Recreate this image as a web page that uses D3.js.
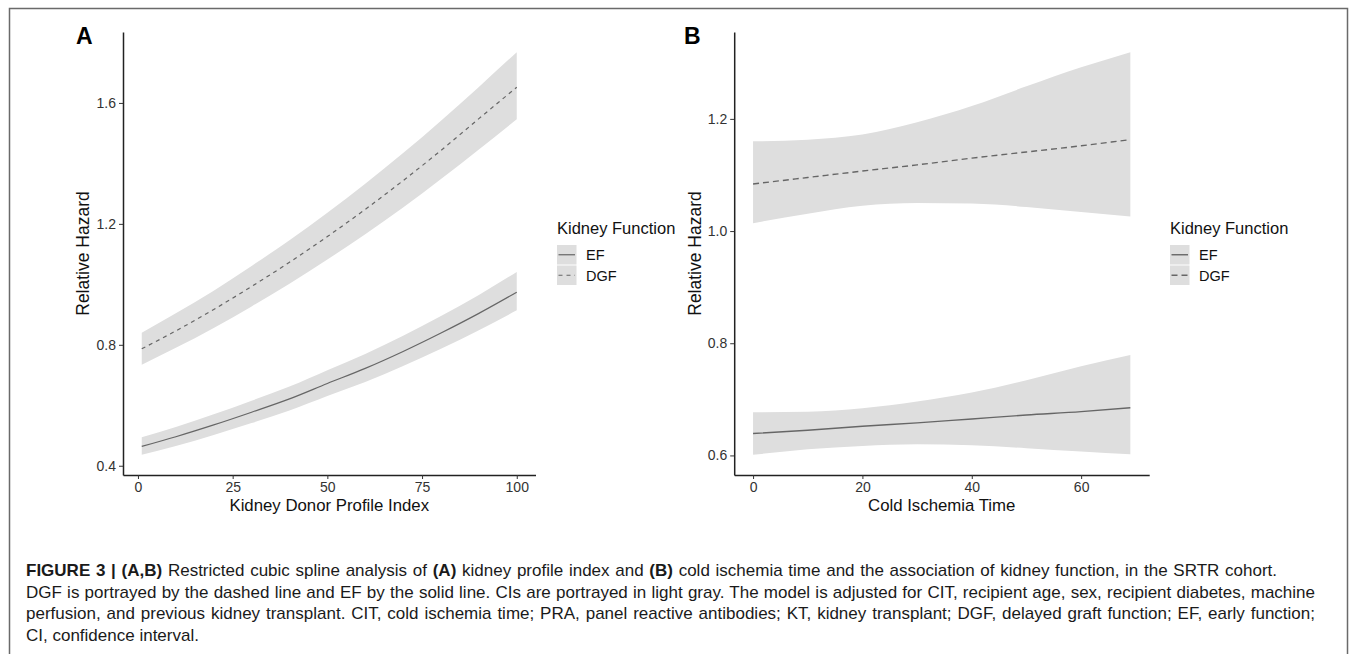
<!DOCTYPE html>
<html>
<head>
<meta charset="utf-8">
<script src="https://cdn.jsdelivr.net/npm/d3@7"></script>
<style>
  body { margin: 0; background: #fff; }
  svg { display: block; font-family: "Liberation Sans", Arial, Helvetica, sans-serif; }
</style>
</head>
<body>
<svg id="chart"></svg>
<script>
// panel A - kidney donor profile index
let kdpiX       = [1, 10, 20, 30, 40, 50, 60, 70, 80, 90, 100];
let kdpiEF      = [0.464, 0.496, 0.535, 0.577, 0.621, 0.672, 0.722, 0.778, 0.839, 0.904, 0.974];
let kdpiEFLow   = [0.436, 0.465, 0.502, 0.541, 0.583, 0.631, 0.677, 0.730, 0.787, 0.848, 0.914];
let kdpiEFHigh  = [0.494, 0.528, 0.570, 0.615, 0.662, 0.716, 0.770, 0.830, 0.895, 0.965, 1.041];
let kdpiDGF     = [0.787, 0.846, 0.917, 0.993, 1.073, 1.158, 1.248, 1.343, 1.443, 1.548, 1.652];
let kdpiDGFLow  = [0.734, 0.790, 0.856, 0.927, 1.002, 1.082, 1.166, 1.254, 1.348, 1.446, 1.546];
let kdpiDGFHigh = [0.840, 0.904, 0.979, 1.061, 1.146, 1.237, 1.333, 1.434, 1.541, 1.653, 1.768];

// panel B - cold ischemia time
let citX       = [0, 10, 20, 30, 40, 50, 60, 69];
let citEF      = [0.639, 0.645, 0.652, 0.658, 0.665, 0.672, 0.678, 0.685];
let citEFLow   = [0.601, 0.611, 0.617, 0.620, 0.618, 0.613, 0.607, 0.602];
let citEFHigh  = [0.677, 0.678, 0.684, 0.696, 0.712, 0.734, 0.759, 0.779];
let citDGF     = [1.084, 1.0955, 1.107, 1.118, 1.130, 1.141, 1.152, 1.163];
let citDGFLow  = [1.014, 1.031, 1.045, 1.050, 1.049, 1.043, 1.034, 1.026];
let citDGFHigh = [1.160, 1.163, 1.172, 1.194, 1.223, 1.258, 1.292, 1.319];

let xTicksA = [0, 25, 50, 75, 100];
let yTicksA = [0.4, 0.8, 1.2, 1.6];
let xTicksB = [0, 20, 40, 60];
let yTicksB = [0.6, 0.8, 1.0, 1.2];

let legendTitle = 'Kidney Function';
let legendLabels = ['EF', 'DGF'];

let captionLines = [
    [['FIGURE 3 | (A,B)', true], [' Restricted cubic spline analysis of ', false], ['(A)', true],
     [' kidney profile index and ', false], ['(B)', true],
     [' cold ischemia time and the association of kidney function, in the SRTR cohort.', false]],
    [['DGF is portrayed by the dashed line and EF by the solid line. CIs are portrayed in light gray. The model is adjusted for CIT, recipient age, sex, recipient diabetes, machine', false]],
    [['perfusion, and previous kidney transplant. CIT, cold ischemia time; PRA, panel reactive antibodies; KT, kidney transplant; DGF, delayed graft function; EF, early function;', false]],
    [['CI, confidence interval.', false]]
];

const width = 1357;
const height = 654;
const plotTop = 32;
const plotBottom = 475;

const bandColor = '#dedede';
const lineColor = '#666666';

let svg = d3.select('#chart')
    .attr('width', width)
    .attr('height', height);

// outer frame of the figure
svg.append('rect')
    .attr('x', 9.5)
    .attr('y', 8.5)
    .attr('width', 1338)
    .attr('height', 700)
    .attr('fill', 'none')
    .attr('stroke', '#6a6a6a')
    .attr('stroke-width', 1.5);

let panels = [
    {
        label: 'A', labelX: 76, left: 123, right: 535.5, titleX: 83,
        xTitle: 'Kidney Donor Profile Index', legendX: 557,
        x: kdpiX, xTicks: xTicksA, yTicks: yTicksA, yFormat: d3.format('.1f'),
        series: [
            { line: kdpiEF, low: kdpiEFLow, high: kdpiEFHigh, dash: null },
            { line: kdpiDGF, low: kdpiDGFLow, high: kdpiDGFHigh, dash: '4,4' }
        ],
        lineWidth: 1.2
    },
    {
        label: 'B', labelX: 684, left: 734.2, right: 1149.2, titleX: 695,
        xTitle: 'Cold Ischemia Time', legendX: 1170,
        x: citX, xTicks: xTicksB, yTicks: yTicksB, yFormat: d3.format('.1f'),
        series: [
            { line: citEF, low: citEFLow, high: citEFHigh, dash: null },
            { line: citDGF, low: citDGFLow, high: citDGFHigh, dash: '6,4' }
        ],
        lineWidth: 1.4
    }
];

let drawPanel = (p) => {
    let g = svg.append('g');

    // ggplot style 5% expansion on both axes
    let xExt = d3.extent(p.x);
    let xPad = (xExt[1] - xExt[0]) * 0.05;
    let yAll = [];
    p.series.forEach(s => { yAll = yAll.concat(s.low, s.high); });
    let yExt = d3.extent(yAll);
    let yPad = (yExt[1] - yExt[0]) * 0.05;

    let xScale = d3.scaleLinear()
        .domain([xExt[0] - xPad, xExt[1] + xPad])
        .range([p.left, p.right]);
    let yScale = d3.scaleLinear()
        .domain([yExt[0] - yPad, yExt[1] + yPad])
        .range([plotBottom, plotTop]);

    let idx = d3.range(p.x.length);

    p.series.forEach(s => {
        let area = d3.area()
            .x(i => xScale(p.x[i]))
            .y0(i => yScale(s.low[i]))
            .y1(i => yScale(s.high[i]))
            .curve(d3.curveMonotoneX);
        g.append('path')
            .attr('d', area(idx))
            .attr('fill', bandColor);
    });

    p.series.forEach(s => {
        let line = d3.line()
            .x(i => xScale(p.x[i]))
            .y(i => yScale(s.line[i]))
            .curve(d3.curveMonotoneX);
        g.append('path')
            .attr('d', line(idx))
            .attr('fill', 'none')
            .attr('stroke', lineColor)
            .attr('stroke-width', p.lineWidth)
            .attr('stroke-dasharray', s.dash);
    });

    let xAxis = d3.axisBottom(xScale)
        .tickValues(p.xTicks)
        .tickSizeInner(4)
        .tickSizeOuter(0)
        .tickPadding(3);
    let yAxis = d3.axisLeft(yScale)
        .tickValues(p.yTicks)
        .tickFormat(p.yFormat)
        .tickSizeInner(4)
        .tickSizeOuter(0)
        .tickPadding(3);

    let gx = g.append('g')
        .attr('transform', 'translate(0,' + plotBottom + ')')
        .call(xAxis);
    let gy = g.append('g')
        .attr('transform', 'translate(' + p.left + ',0)')
        .call(yAxis);

    [gx, gy].forEach(a => {
        a.select('.domain').attr('stroke', '#222').attr('stroke-width', 1.5);
        a.selectAll('.tick line').attr('stroke', '#333').attr('stroke-width', 1);
        a.selectAll('.tick text')
            .attr('fill', '#333')
            .style('font-size', '14px')
            .style('font-family', '"Liberation Sans", Arial, sans-serif');
    });

    // axis titles
    g.append('text')
        .attr('x', (p.left + p.right) / 2)
        .attr('y', 511)
        .attr('text-anchor', 'middle')
        .style('font-size', '16.8px')
        .attr('fill', '#111')
        .text(p.xTitle);

    g.append('text')
        .attr('transform', 'translate(' + (p.titleX + 6) + ',' + ((plotTop + plotBottom) / 2) + ') rotate(-90)')
        .attr('text-anchor', 'middle')
        .style('font-size', '17.5px')
        .attr('fill', '#111')
        .text('Relative Hazard');

    // panel letter
    g.append('text')
        .attr('x', p.labelX)
        .attr('y', 44)
        .style('font-size', '23px')
        .style('font-weight', 'bold')
        .attr('fill', '#000')
        .text(p.label);

    // legend
    let lg = g.append('g');
    lg.append('text')
        .attr('x', p.legendX)
        .attr('y', 234)
        .style('font-size', '16.5px')
        .attr('fill', '#111')
        .text(legendTitle);

    legendLabels.forEach((name, i) => {
        let top = 245 + i * 20.5;
        lg.append('rect')
            .attr('x', p.legendX)
            .attr('y', top)
            .attr('width', 19.5)
            .attr('height', 19.5)
            .attr('fill', bandColor);
        lg.append('line')
            .attr('x1', p.legendX + 1.5)
            .attr('x2', p.legendX + 18)
            .attr('y1', top + 9.75)
            .attr('y2', top + 9.75)
            .attr('stroke', lineColor)
            .attr('stroke-width', p.lineWidth)
            .attr('stroke-dasharray', p.series[i].dash);
        lg.append('text')
            .attr('x', p.legendX + 29)
            .attr('y', top + 15)
            .style('font-size', '14.5px')
            .attr('fill', '#111')
            .text(name);
    });
};

panels.forEach(drawPanel);

// caption below the figure
let captionTargets = [1251, 1289, 1289, null];

captionLines.forEach((parts, i) => {
    let t = svg.append('text')
        .attr('x', 26)
        .attr('y', 576 + i * 21.5)
        .style('font-size', '17px')
        .attr('fill', '#1a1a1a');
    parts.forEach(part => {
        t.append('tspan')
            .style('font-weight', part[1] ? 'bold' : 'normal')
            .text(part[0]);
    });
    let target = captionTargets[i];
    if (target) {
        let natural = t.node().getComputedTextLength();
        let spaces = parts.map(d => d[0]).join('').split(' ').length - 1;
        t.style('word-spacing', ((target - natural) / spaces) + 'px');
    }
});
</script>
</body>
</html>
